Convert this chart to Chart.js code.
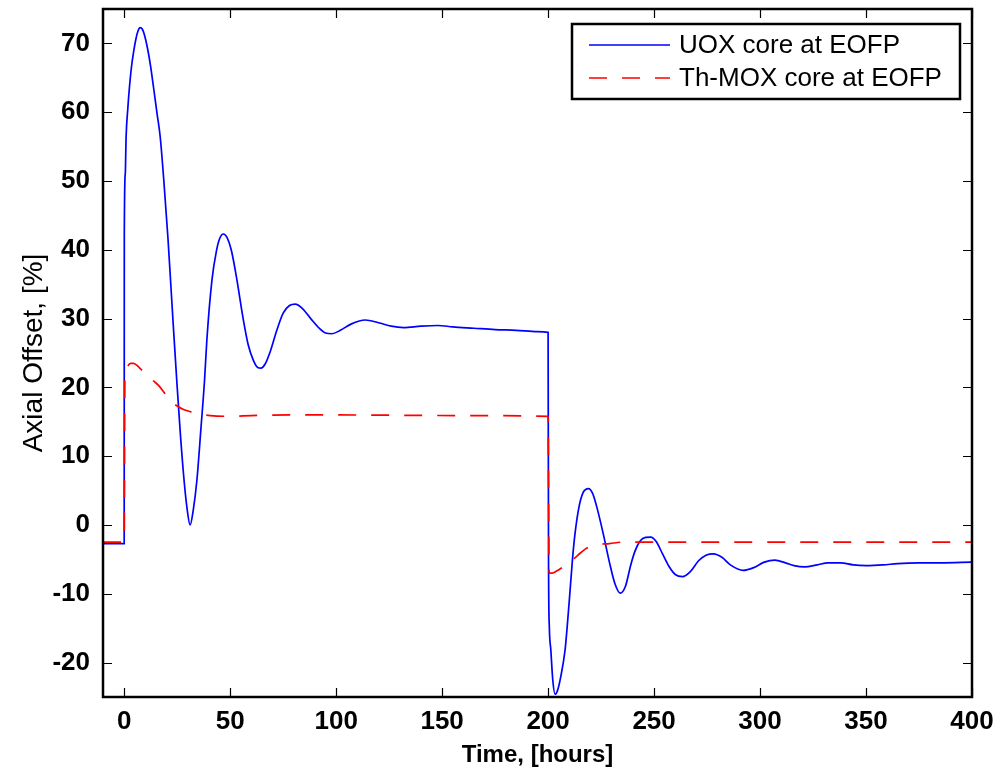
<!DOCTYPE html>
<html lang="en">
<head>
    <meta charset="UTF-8">
    <title>Axial Offset</title>
    <script src="https://cdn.jsdelivr.net/npm/chart.js@4.4.1/dist/chart.umd.min.js"></script>
    <style>
        html, body { margin: 0; padding: 0; background: #fff; }
        #wrap { width: 998px; height: 767px; }
    </style>
</head>
<body>
    <div id="wrap"><canvas id="aoChart" width="998" height="767"></canvas></div>

    <script>
        // UOX core at EOFP (time in hours, axial offset in %)
        const uoxTime = [-10, 0, 0.05, 0.5, 0.9, 1.7, 2.5, 3.4, 4.4, 5.5, 6.5, 7.5, 8.5, 9.5, 11, 12.5, 13.8, 15.5, 17, 18.9,
            20.6, 21.7, 23.2, 24.8, 26.6, 28.4, 29.7, 31.1, 32.6, 34.3, 36.2, 37.9, 39, 41.4, 43.5, 45, 46.8, 48.5, 50.5, 53.2,
            56, 58.5, 61, 63, 64.5, 66.5, 69, 72, 75, 78, 80.7, 84, 88, 92, 95, 98, 102, 107, 113.7, 120,
            126, 131.8, 140, 148, 155, 165, 175, 185, 195, 200, 200.2, 200.6, 201.3, 202.2, 203.3, 204.5, 206, 208, 209, 210,
            211.5, 212.7, 214.5, 216.5, 219, 221, 223, 226, 229, 231.5, 234, 236.5, 239, 241, 243.5, 246, 248.4, 251, 254, 257,
            260, 263.4, 267, 271, 274.5, 278, 282, 286, 292, 297, 302, 307, 312, 316, 321, 327, 332, 338, 344, 350,
            358, 365, 375, 385, 400];
        const uoxAO = [-2.7, -2.7, 42, 51, 56.4, 60.5, 63.7, 66.5, 68.7, 70.6, 71.8, 72.3, 72.1, 71.3, 69.3, 66.6, 63.7, 59.8, 56.4, 49.2,
            41.9, 36.4, 28.8, 21, 12.8, 6, 2.3, 0, 2.2, 6.5, 14, 21, 26.9, 35.6, 39.8, 41.6, 42.3, 41.8, 40, 35.6,
            30.2, 26.2, 23.9, 22.9, 22.8, 23.4, 25.3, 28.3, 30.8, 31.9, 32.1, 31.5, 30, 28.6, 27.9, 27.8, 28.3, 29.2, 29.8, 29.4,
            28.9, 28.7, 28.9, 29, 28.8, 28.6, 28.4, 28.3, 28.1, 28, -5, -15, -18.2, -22.5, -24.6, -24, -22, -18.2, -14.8, -11,
            -5, -1.25, 2.5, 4.7, 5.3, 4.6, 2.6, -1.25, -5.5, -8.5, -9.9, -8.9, -5.8, -3.8, -2.3, -1.8, -1.75, -2.4, -4.2, -6,
            -7.2, -7.5, -6.8, -5.2, -4.4, -4.2, -4.7, -5.8, -6.6, -6.2, -5.4, -5.1, -5.5, -5.9, -6.1, -5.8, -5.5, -5.5, -5.8, -5.9,
            -5.8, -5.6, -5.5, -5.5, -5.4];

        // Th-MOX core at EOFP
        const thTime = [-10, 0, 0.3, 1, 1.7, 3, 4.4, 6, 8, 10, 12.3, 14, 16.2, 19, 21.7, 25, 28, 32, 35.8, 40.6,
            50, 60, 80, 100, 130, 160, 200, 200.5, 202, 204, 207, 210.4, 214, 218, 222, 229, 235, 260, 300, 400];
        const thAO = [-2.5, -2.5, 21, 22.6, 23.1, 23.5, 23.5, 23.2, 22.6, 22, 21.4, 20.9, 20.3, 19.2, 18.1, 17.3, 16.8, 16.4, 16.1, 15.9,
            15.8, 15.9, 16, 16, 15.95, 15.9, 15.8, -7, -7, -6.7, -6.1, -5.4, -4.4, -3.4, -2.9, -2.7, -2.5, -2.5, -2.5, -2.5];

        const seriesNames = ['UOX core at EOFP', 'Th-MOX core at EOFP'];
        const xTicks = [0, 50, 100, 150, 200, 250, 300, 350, 400];
        const yTicks = [-20, -10, 0, 10, 20, 30, 40, 50, 60, 70];

        const fontFamily = '"Liberation Sans", Arial, Helvetica, sans-serif';

        function toPoints(xs, ys) {
            return xs.map((x, i) => ({ x: x, y: ys[i] }));
        }

        // MATLAB-like box: inward ticks on all four sides, frame, legend inside
        const matlabBox = {
            id: 'matlabBox',
            afterDatasetsDraw(chart) {
                const { ctx, chartArea: a, scales } = chart;
                const sx = scales.x, sy = scales.y;
                const tl = 9;
                ctx.save();
                ctx.strokeStyle = '#000';
                ctx.lineWidth = 1.2;
                ctx.beginPath();
                sx.ticks.forEach(t => {
                    const px = Math.round(sx.getPixelForValue(t.value)) + 0.5;
                    ctx.moveTo(px, a.bottom); ctx.lineTo(px, a.bottom - tl);
                    ctx.moveTo(px, a.top); ctx.lineTo(px, a.top + tl);
                });
                sy.ticks.forEach(t => {
                    const py = Math.round(sy.getPixelForValue(t.value)) + 0.5;
                    ctx.moveTo(a.left, py); ctx.lineTo(a.left + tl, py);
                    ctx.moveTo(a.right, py); ctx.lineTo(a.right - tl, py);
                });
                ctx.stroke();

                ctx.lineWidth = 2.5;
                ctx.strokeRect(a.left, a.top, a.right - a.left, a.bottom - a.top);

                // legend
                const bw = 388, bh = 75;
                const bx = a.right - 12 - bw, by = a.top + 15;
                ctx.fillStyle = '#fff';
                ctx.fillRect(bx, by, bw, bh);
                ctx.lineWidth = 2.5;
                ctx.strokeRect(bx, by, bw, bh);
                ctx.font = '26px ' + fontFamily;
                ctx.textBaseline = 'middle';
                ctx.textAlign = 'left';
                chart.data.datasets.forEach((ds, i) => {
                    const ly = by + 21 + i * 33;
                    ctx.beginPath();
                    ctx.strokeStyle = ds.borderColor;
                    ctx.lineWidth = ds.borderWidth;
                    ctx.setLineDash(ds.borderDash || []);
                    ctx.moveTo(bx + 17, ly);
                    ctx.lineTo(bx + 98, ly);
                    ctx.stroke();
                    ctx.setLineDash([]);
                    ctx.fillStyle = '#000';
                    ctx.fillText(ds.label, bx + 107, ly + 1);
                });
                ctx.restore();
            }
        };

        const ctx = document.getElementById('aoChart').getContext('2d');
        const aoChart = new Chart(ctx, {
            type: 'line',
            data: {
                datasets: [{
                    label: seriesNames[0],
                    data: toPoints(uoxTime, uoxAO),
                    borderColor: '#0000ff',
                    borderWidth: 1.7,
                    pointRadius: 0,
                    cubicInterpolationMode: 'monotone',
                    order: 1
                }, {
                    label: seriesNames[1],
                    data: toPoints(thTime, thAO),
                    borderColor: '#ff0000',
                    borderWidth: 1.7,
                    borderDash: [18, 15],
                    pointRadius: 0,
                    cubicInterpolationMode: 'monotone',
                    order: 0
                }]
            },
            options: {
                responsive: false,
                animation: false,
                events: [],
                layout: { padding: { top: 9, right: 26, left: 0, bottom: 0 } },
                plugins: {
                    legend: { display: false },
                    tooltip: { enabled: false }
                },
                scales: {
                    x: {
                        type: 'linear',
                        min: -10,
                        max: 400,
                        afterBuildTicks: s => { s.ticks = xTicks.map(v => ({ value: v })); },
                        afterFit: s => { s.height = 70; s.paddingLeft = 0; s.paddingRight = 0; },
                        grid: { display: false, drawTicks: false },
                        border: { display: false },
                        ticks: {
                            color: '#000',
                            padding: 9,
                            maxRotation: 0,
                            autoSkip: false,
                            font: { family: fontFamily, size: 26, weight: 'bold' }
                        },
                        title: {
                            display: true,
                            text: 'Time, [hours]',
                            color: '#000',
                            padding: { top: 0, bottom: 0 },
                            font: { family: fontFamily, size: 24, weight: 'bold', lineHeight: 1 }
                        }
                    },
                    y: {
                        type: 'linear',
                        min: -25,
                        max: 75,
                        afterBuildTicks: s => { s.ticks = yTicks.map(v => ({ value: v })); },
                        afterFit: s => { s.width = 103; s.paddingTop = 0; s.paddingBottom = 0; },
                        grid: { display: false, drawTicks: false },
                        border: { display: false },
                        ticks: {
                            color: '#000',
                            padding: 13,
                            autoSkip: false,
                            font: { family: fontFamily, size: 26, weight: 'bold' }
                        },
                        title: {
                            display: true,
                            text: 'Axial Offset, [%]',
                            color: '#000',
                            padding: { top: 20, bottom: 0 },
                            font: { family: fontFamily, size: 28, weight: 'normal', lineHeight: 1 }
                        }
                    }
                }
            },
            plugins: [matlabBox]
        });
    </script>
</body>
</html>
